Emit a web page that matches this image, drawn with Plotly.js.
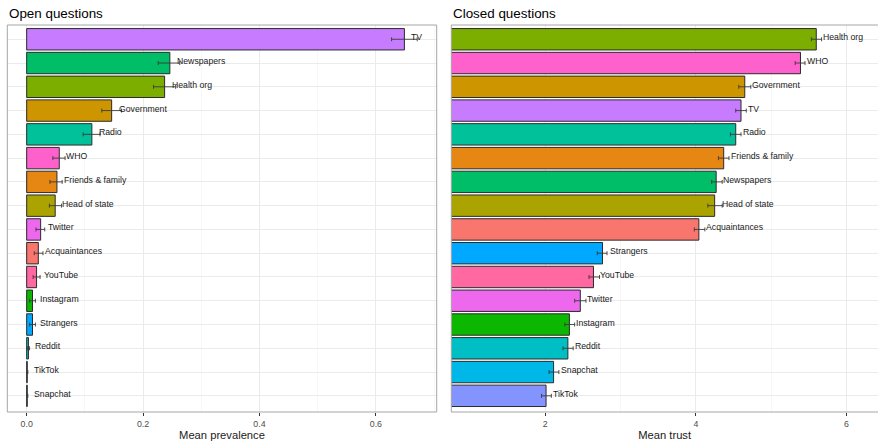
<!DOCTYPE html>
<html>
<head>
<meta charset="utf-8">
<script src="https://cdn.plot.ly/plotly-3.0.1.min.js"></script>
<style>
html,body{margin:0;padding:0;overflow:hidden;background:#fff;}
#chart{width:878px;height:443px;}
</style>
</head>
<body>
<div id="chart"></div>
<script>
// ---- Data ----
// Open questions: top-to-bottom order
const openCats = ["TV","Newspapers","Health org","Government","Radio","WHO","Friends & family","Head of state","Twitter","Acquaintances","YouTube","Instagram","Strangers","Reddit","TikTok","Snapchat"];
const openMean = [0.649,0.246,0.237,0.146,0.112,0.056,0.052,0.049,0.024,0.020,0.017,0.010,0.010,0.003,0.001,0.001];
const openLow  = [0.627,0.226,0.218,0.129,0.097,0.045,0.040,0.039,0.016,0.013,0.011,0.005,0.005,0.001,0.000,0.000];
const openHigh = [0.671,0.263,0.256,0.163,0.126,0.066,0.061,0.060,0.031,0.028,0.023,0.015,0.015,0.005,0.002,0.002];

// Closed questions: top-to-bottom order
const closedCats = ["Health org","WHO","Government","TV","Radio","Friends & family","Newspapers","Head of state","Acquaintances","Strangers","YouTube","Twitter","Instagram","Reddit","Snapchat","TikTok"];
const closedMean = [5.60,5.39,4.65,4.60,4.53,4.37,4.27,4.25,4.04,2.76,2.64,2.465,2.32,2.30,2.11,2.01];
const closedLow  = [5.535,5.32,4.57,4.53,4.46,4.30,4.21,4.16,3.98,2.69,2.58,2.39,2.26,2.235,2.05,1.95];
const closedHigh = [5.67,5.45,4.73,4.67,4.60,4.44,4.35,4.35,4.12,2.82,2.72,2.54,2.39,2.37,2.18,2.08];

const panelTitles = ["Open questions","Closed questions"];
const axisTitles = ["Mean prevalence","Mean trust"];

// ---- Styles ----
const sourceOrder = ["Acquaintances","Friends & family","Government","Head of state","Health org","Instagram","Newspapers","Radio","Reddit","Snapchat","Strangers","TikTok","TV","Twitter","WHO","YouTube"];
const palette = ["#F8766D","#E68613","#CD9600","#ABA300","#7CAE00","#0CB702","#00BE67","#00C19A","#00BFC4","#00B8E7","#00A9FF","#8494FF","#C77CFF","#ED68ED","#FF61CC","#FF68A1"];
const colorOf = {};
sourceOrder.forEach((s,i)=>colorOf[s]=palette[i]);

const FONT = "Liberation Sans, Arial, Helvetica, sans-serif";
const W = 878, H = 443;
const panelTop = 25, panelBottom = 412;
const yDom = [(H - panelBottom)/H, (H - panelTop)/H];

function makeTrace(cats, mean, low, high, xa, ya){
  return {
    type: "bar", orientation: "h",
    x: mean, y: cats,
    xaxis: xa, yaxis: ya,
    width: 0.9,
    marker: {color: cats.map(c=>colorOf[c]), line: {color: "#2b2b2b", width: 1}},
    error_x: {
      type: "data", symmetric: false,
      array: high.map((h,i)=>h-mean[i]),
      arrayminus: low.map((l,i)=>mean[i]-l),
      color: "#3a3a3a", thickness: 0.9, width: 2
    },
    hoverinfo: "x+y", showlegend: false
  };
}

const traces = [
  makeTrace(openCats, openMean, openLow, openHigh, "x", "y"),
  makeTrace(closedCats, closedMean, closedLow, closedHigh, "x2", "y2")
];

const annotations = [];
function addLabels(cats, mean, xr, yr){
  cats.forEach((c,i)=>annotations.push({
    x: mean[i], y: c, xref: xr, yref: yr, text: c, showarrow: false,
    xanchor: "left", yanchor: "middle", xshift: 5, yshift: 2,
    font: {family: FONT, size: 8.7, color: "#1a1a1a"}
  }));
}
addLabels(openCats, openMean, "x", "y");
addLabels(closedCats, closedMean, "x2", "y2");

const leftDom = [7.3/W, 436.7/W];
const rightDom = [451.3/W, 1.0];
[[panelTitles[0], leftDom[0]],[panelTitles[1], rightDom[0]]].forEach(([t,x])=>{
  annotations.push({text: t, x: x, y: (H-13)/H, xref: "paper", yref: "paper",
    xanchor: "left", yanchor: "middle", showarrow: false,
    font: {family: FONT, size: 13.4, color: "#000"}});
});

function xAxis(dom, range, dtick, minorDtick, fmt, title, anchor){
  return {
    domain: dom, range: range, anchor: anchor,
    tickmode: "linear", tick0: 0, dtick: dtick, tickformat: fmt,
    ticks: "outside", ticklen: 3, tickcolor: "#333", tickwidth: 1,
    tickfont: {family: FONT, size: 8.8, color: "#4D4D4D"},
    showgrid: true, gridcolor: "#EBEBEB", gridwidth: 1,
    minor: {dtick: minorDtick, tick0: 0, showgrid: true, gridcolor: "#F3F3F3", gridwidth: 0.7},
    zeroline: false, showline: false,
    title: {text: title, standoff: 3, font: {family: FONT, size: 11.2, color: "#1a1a1a"}},
    fixedrange: true
  };
}
function yAxis(cats, anchor){
  return {
    domain: yDom, anchor: anchor,
    type: "category", categoryorder: "array", categoryarray: cats.slice().reverse(),
    range: [-0.68, 15.6],
    showticklabels: false, ticks: "",
    showgrid: true, gridcolor: "#EBEBEB", gridwidth: 1,
    zeroline: false, showline: false, fixedrange: true
  };
}

const layout = {
  width: W, height: H,
  margin: {l: 0, r: 0, t: 0, b: 0},
  paper_bgcolor: "#fff", plot_bgcolor: "#fff",
  font: {family: FONT},
  xaxis: xAxis(leftDom, [-0.0333, 0.7045], 0.2, 0.1, ".1f", axisTitles[0], "y"),
  yaxis: yAxis(openCats, "x"),
  xaxis2: xAxis(rightDom, [0.751, 6.42], 2, 1, "d", axisTitles[1], "y2"),
  yaxis2: yAxis(closedCats, "x2"),
  annotations: annotations,
  shapes: [
    {type: "rect", xref: "x domain", yref: "y domain", x0: 0, x1: 1, y0: 0, y1: 1,
     line: {color: "#A6A6A6", width: 1}, layer: "above"},
    {type: "rect", xref: "x2 domain", yref: "y2 domain", x0: 0, x1: 1.05, y0: 0, y1: 1,
     line: {color: "#A6A6A6", width: 1}, layer: "above"}
  ]
};

Plotly.newPlot("chart", traces, layout, {displayModeBar: false, staticPlot: true});
</script>
</body>
</html>
